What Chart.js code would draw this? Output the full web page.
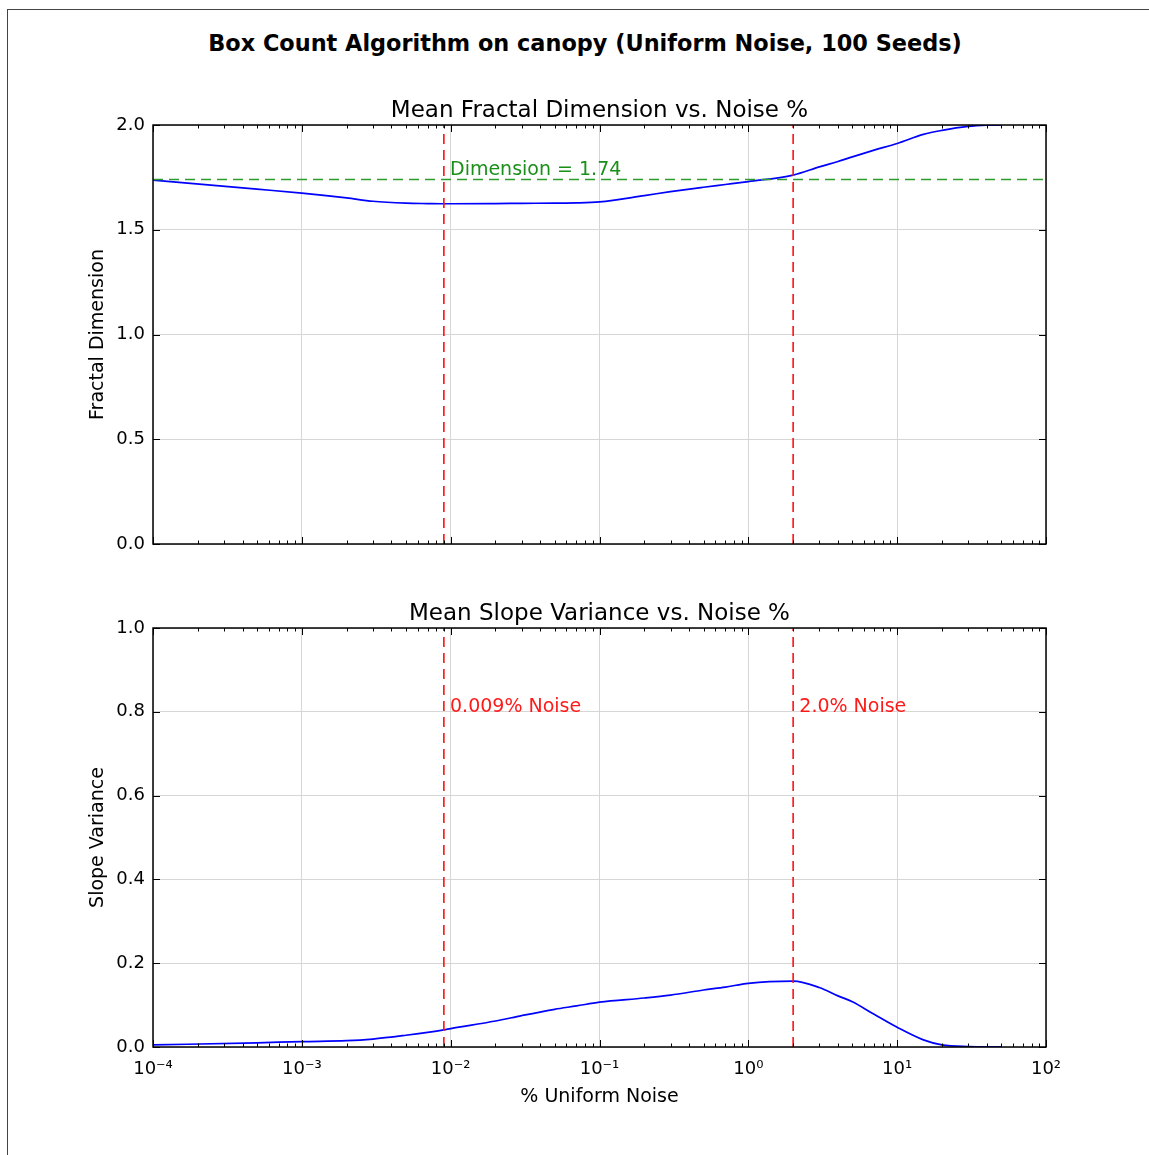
<!DOCTYPE html>
<html>
<head>
<meta charset="utf-8">
<script src="https://cdn.jsdelivr.net/npm/chart.js@4.4.1/dist/chart.umd.min.js"></script>
<style>
body { margin: 0; background: #fff; }
#frame { position: absolute; left: 7px; top: 9px; width: 1142px; height: 1146px; border-left: 1px solid #444; border-top: 1px solid #444; }
#suptitle { position: absolute; left: 0; width: 1170px; top: 29.5px; text-align: center; font: bold 22.4px "DejaVu Sans"; line-height: 26px; color: #000; }
canvas { position: absolute; left: 0; }
#chart1 { top: 80px; }
#chart2 { top: 570px; }
</style>
</head>
<body>
<div id="frame"></div>
<div id="suptitle">Box Count Algorithm on canopy (Uniform Noise, 100 Seeds)</div>
<canvas id="chart1" width="1149" height="490"></canvas>
<canvas id="chart2" width="1149" height="560"></canvas>
<script>
// noise levels (%) used on the x axis
const noise = [0.0001, 0.0005, 0.001, 0.002, 0.003, 0.005, 0.007, 0.009, 0.01, 0.02, 0.03, 0.05, 0.07, 0.1,
    0.2, 0.3, 0.5, 0.7, 1, 2, 3, 4, 5, 7, 10, 15, 20, 30, 40, 50]
const meanDimension = [1.737, 1.694, 1.675, 1.652, 1.636, 1.627, 1.625, 1.624, 1.624, 1.625, 1.626, 1.627, 1.628, 1.633,
    1.663, 1.682, 1.703, 1.716, 1.730, 1.761, 1.800, 1.826, 1.848, 1.880, 1.912, 1.955, 1.974, 1.993, 1.999, 2.000]
const slopeVariance = [0.005, 0.010, 0.013, 0.015, 0.019, 0.028, 0.035, 0.041, 0.044, 0.062, 0.075, 0.090, 0.098, 0.107,
    0.117, 0.124, 0.136, 0.143, 0.152, 0.157, 0.142, 0.122, 0.108, 0.078, 0.047, 0.017, 0.005, 0.001, 0.0005, 0.0003]
const thresholds = [0.009, 2.0]       // red dashed lines
const thresholdLabels = ['0.009% Noise', '2.0% Noise']
const dimension = 1.74                // green dashed line
const xRange = [0.0001, 100]
const decadeLabels = ['10⁻⁴', '10⁻³', '10⁻²', '10⁻¹', '10⁰', '10¹', '10²']

Chart.defaults.font.family = 'DejaVu Sans'
Chart.defaults.color = '#000'

// log ticks 1..9 x 10^n
const xTicks = []
for (let e = -4; e <= 2; e++) {
    for (let m = 1; m <= 9; m++) {
        if (e === 2 && m > 1) break
        xTicks.push({ value: m * Math.pow(10, e), major: m === 1 })
    }
}

const tickFont = { size: 18 }
const labelFont = { size: 19 }
const gridGray = '#d6d6d6'

// matplotlib style frame with inward ticks, plus text labels in data coords
const frameTicks = {
    id: 'frameTicks',
    afterDatasetsDraw(chart, args, opts) {
        const { ctx, chartArea: a, scales: { x, y } } = chart
        ctx.save()
        ctx.strokeStyle = '#000'
        ctx.lineWidth = 1
        ctx.beginPath()
        x.ticks.forEach(t => {
            const px = Math.round(x.getPixelForValue(t.value)) + 0.5
            const len = t.major ? 7 : 3.5
            ctx.moveTo(px, a.bottom); ctx.lineTo(px, a.bottom - len)
            ctx.moveTo(px, a.top); ctx.lineTo(px, a.top + len)
        })
        y.ticks.forEach(t => {
            const py = Math.round(y.getPixelForValue(t.value)) + 0.5
            ctx.moveTo(a.left, py); ctx.lineTo(a.left + 7, py)
            ctx.moveTo(a.right, py); ctx.lineTo(a.right - 7, py)
        })
        ctx.stroke()
        ctx.lineWidth = 1.5
        ctx.strokeRect(a.left, a.top, a.right - a.left, a.bottom - a.top)

        ctx.font = '19px "DejaVu Sans"'
        ctx.textAlign = 'left'
        ctx.textBaseline = 'alphabetic'
        ;(opts.labels || []).forEach(l => {
            ctx.fillStyle = l.color
            ctx.fillText(l.text, x.getPixelForValue(l.x), y.getPixelForValue(l.y))
        })
        ctx.restore()
    }
}

function xScale(showLabels, height, title) {
    return {
        type: 'logarithmic',
        min: xRange[0],
        max: xRange[1],
        afterBuildTicks: s => { s.ticks = xTicks.map(t => ({ ...t })) },
        afterFit: s => { s.height = height },
        ticks: {
            display: showLabels,
            autoSkip: false,
            maxRotation: 0,
            padding: 12,
            font: tickFont,
            callback: (v, i) => {
                const k = Math.round(Math.log10(v))
                return xTicks[i] && xTicks[i].major ? decadeLabels[k + 4] : ''
            }
        },
        grid: {
            drawTicks: false,
            color: c => (c.tick && c.tick.major) ? gridGray : 'rgba(0,0,0,0)'
        },
        border: { display: false },
        title: {
            display: !!title,
            text: title || '',
            font: labelFont,
            padding: { top: 0, bottom: 22 }
        }
    }
}

function yScale(max, step, title) {
    return {
        min: 0,
        max: max,
        afterFit: s => { s.width = 153 },
        ticks: { stepSize: step, padding: 8, font: tickFont, callback: v => v.toFixed(1) },
        grid: { drawTicks: false, color: gridGray },
        border: { display: false },
        title: { display: true, text: title, font: labelFont, padding: { top: 87, bottom: 0 } }
    }
}

function vLine(xv, ymax) {
    return {
        data: [{ x: xv, y: 0 }, { x: xv, y: ymax }],
        borderColor: '#ff1010',
        borderWidth: 1.6,
        borderDash: [10, 6],
        pointRadius: 0
    }
}

const data1 = {
    datasets: [
        vLine(thresholds[0], 2), vLine(thresholds[1], 2),
        {
            data: [{ x: xRange[0], y: dimension }, { x: xRange[1], y: dimension }],
            borderColor: '#2f9a2f',
            borderWidth: 1.6,
            borderDash: [10, 6],
            pointRadius: 0
        },
        {
            data: noise.map((n, i) => ({ x: n, y: meanDimension[i] })),
            borderColor: '#0000ff',
            borderWidth: 1.7,
            pointRadius: 0,
            cubicInterpolationMode: 'monotone'
        }
    ]
}

const data2 = {
    datasets: [
        vLine(thresholds[0], 1), vLine(thresholds[1], 1),
        {
            data: noise.map((n, i) => ({ x: n, y: slopeVariance[i] })),
            borderColor: '#0000ff',
            borderWidth: 1.7,
            pointRadius: 0,
            cubicInterpolationMode: 'monotone'
        }
    ]
}

const config1 = {
    type: 'line',
    data: data1,
    plugins: [frameTicks],
    options: {
        responsive: false,
        animation: false,
        devicePixelRatio: 1,
        layout: { padding: { left: 0, right: 103, top: 0, bottom: 0 } },
        scales: { x: xScale(false, 26), y: yScale(2, 0.5, 'Fractal Dimension') },
        plugins: {
            legend: { display: false },
            tooltip: { enabled: false },
            title: {
                display: true,
                text: 'Mean Fractal Dimension vs. Noise %',
                fullSize: false,
                font: { size: 23, weight: 'normal' },
                padding: { top: 17.4, bottom: 0 }
            },
            frameTicks: {
                labels: [{ text: 'Dimension = ' + dimension.toFixed(2), x: thresholds[0] * 1.1, y: dimension + 0.02, color: '#1a8f1a' }]
            }
        }
    }
}

const config2 = {
    type: 'line',
    data: data2,
    plugins: [frameTicks],
    options: {
        responsive: false,
        animation: false,
        devicePixelRatio: 1,
        layout: { padding: { left: 0, right: 103, top: 0, bottom: 0 } },
        scales: { x: xScale(true, 83, '% Uniform Noise'), y: yScale(1, 0.2, 'Slope Variance') },
        plugins: {
            legend: { display: false },
            tooltip: { enabled: false },
            title: {
                display: true,
                text: 'Mean Slope Variance vs. Noise %',
                fullSize: false,
                font: { size: 23, weight: 'normal' },
                padding: { top: 30.2, bottom: 0.2 }
            },
            frameTicks: {
                labels: thresholds.map((t, i) => ({ text: thresholdLabels[i], x: t * 1.1, y: 0.8, color: '#ff1a1a' }))
            }
        }
    }
}

const myChart = new Chart(document.getElementById('chart1'), config1)
const myChart2 = new Chart(document.getElementById('chart2'), config2)
</script>
</body>
</html>
